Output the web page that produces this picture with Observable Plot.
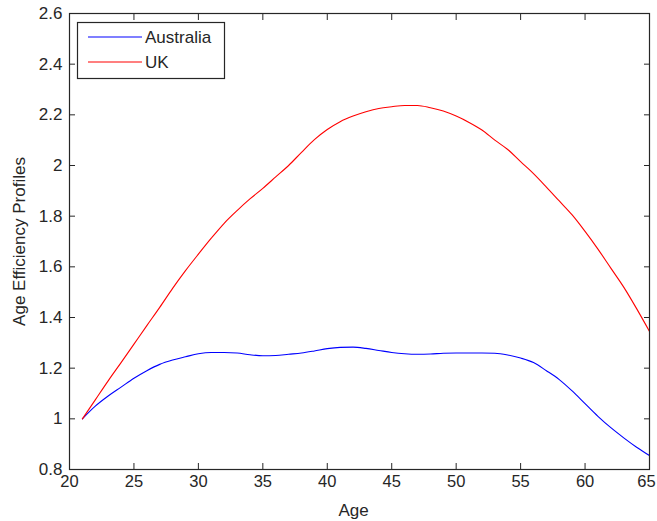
<!DOCTYPE html>
<html><head><meta charset="utf-8">
<script src="https://cdn.jsdelivr.net/npm/d3@7"></script>
<script src="https://cdn.jsdelivr.net/npm/@observablehq/plot@0.6"></script>
<style>body{margin:0;background:#fff}</style>
</head><body><div id="chart"></div>
<script>
const ages = [21,22,23,24,25,26,27,28,29,30,31,32,33,34,35,36,37,38,39,40,41,42,43,44,45,46,47,48,49,50,51,52,53,54,55,56,57,58,59,60,61,62,63,64,65];
const australia = [1.00,1.05,1.09,1.125,1.16,1.19,1.215,1.232,1.245,1.257,1.262,1.262,1.26,1.253,1.249,1.25,1.255,1.26,1.268,1.277,1.282,1.283,1.278,1.27,1.262,1.257,1.255,1.256,1.259,1.26,1.26,1.26,1.259,1.252,1.24,1.222,1.19,1.155,1.11,1.06,1.01,0.965,0.925,0.888,0.855];
const uk = [1.00,1.075,1.15,1.222,1.295,1.368,1.44,1.515,1.585,1.65,1.713,1.772,1.822,1.868,1.91,1.955,2.00,2.052,2.102,2.142,2.173,2.195,2.212,2.225,2.232,2.237,2.237,2.228,2.215,2.195,2.17,2.14,2.10,2.063,2.015,1.968,1.915,1.86,1.805,1.74,1.67,1.595,1.52,1.435,1.345];
const seriesNames = ["Australia", "UK"];
const seriesColors = ["#0000ff", "#ff0000"];
const xTicks = [20,25,30,35,40,45,50,55,60,65];
const yTicks = [0.8,1,1.2,1.4,1.6,1.8,2,2.2,2.4,2.6];
const xLabel = "Age";
const yLabel = "Age Efficiency Profiles";

const seriesValues = [australia, uk];
const data = seriesNames.flatMap((s, k) => ages.map((a, i) => ({age: a, value: seriesValues[k][i], series: s})));

const fmt = d3.format("~");
const ink = "#262626";
const tick = 6;
const lastX = xTicks[xTicks.length - 1];

const svg = Plot.plot({
  width: 657, height: 521,
  marginLeft: 69, marginRight: 8, marginTop: 13, marginBottom: 52,
  style: {fontFamily: "'Liberation Sans', Arial, sans-serif", fontSize: "17px", background: "#fff", color: ink},
  x: {domain: [20, 65]},
  y: {domain: [0.8, 2.6]},
  color: {domain: seriesNames, range: seriesColors},
  marks: [
    Plot.lineY(data, {x: "age", y: "value", stroke: "series", strokeWidth: 1.1, curve: "monotone-x"}),
    Plot.frame({stroke: ink, strokeWidth: 1.2}),
    Plot.axisX(xTicks.slice(0, -1), {anchor: "bottom", tickSize: 0, tickPadding: 6, tickFormat: fmt, label: null, fontSize: 16.5}),
    Plot.axisX([lastX], {anchor: "bottom", tickSize: 0, tickPadding: 6, tickFormat: fmt, label: null, fontSize: 16.5, dx: -3}),
    Plot.axisX(xTicks, {anchor: "bottom", tickSize: tick, dy: -tick, text: null, label: null, stroke: ink}),
    Plot.axisX(xTicks, {anchor: "top", tickSize: tick, dy: tick, text: null, label: null, stroke: ink}),
    Plot.axisY(yTicks, {anchor: "left", tickSize: 0, tickPadding: 7, tickFormat: fmt, label: null}),
    Plot.axisY(yTicks, {anchor: "left", tickSize: tick, dx: tick, text: null, label: null, stroke: ink}),
    Plot.axisY(yTicks, {anchor: "right", tickSize: tick, dx: -tick, text: null, label: null, stroke: ink}),
    Plot.text([xLabel], {frameAnchor: "bottom", dy: 41, dx: -6, lineAnchor: "middle", fill: ink}),
    Plot.text([yLabel], {frameAnchor: "left", dx: -50, rotate: -90, lineAnchor: "middle", textAnchor: "middle", fill: ink})
  ]
});

// legend box
const lg = d3.select(svg).append("g").attr("text-anchor", "start");
lg.append("rect").attr("x", 77.5).attr("y", 22.5).attr("width", 147).attr("height", 56)
  .attr("fill", "#fff").attr("stroke", ink).attr("stroke-width", 1.2);
seriesNames.forEach((s, i) => {
  const y = 37 + 25 * i;
  lg.append("line").attr("x1", 88).attr("x2", 142).attr("y1", y).attr("y2", y)
    .attr("stroke", seriesColors[i]).attr("stroke-width", 1.1);
  lg.append("text").attr("x", 145).attr("y", y).attr("dy", "0.35em")
    .attr("fill", ink).text(s);
});

document.getElementById("chart").appendChild(svg);
</script>
</body></html>
